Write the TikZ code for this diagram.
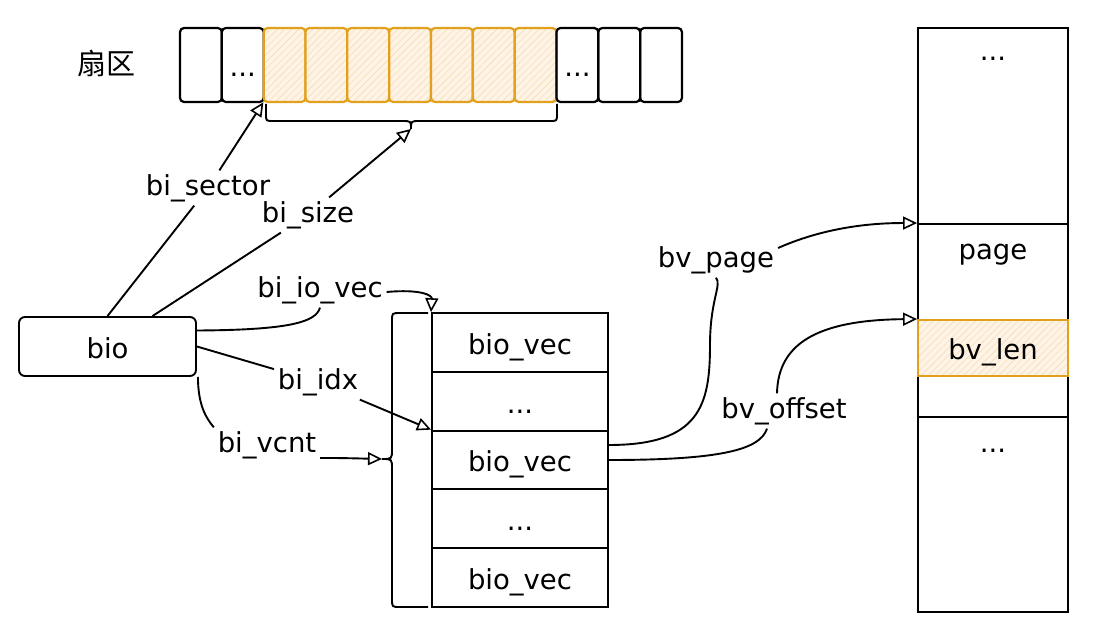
\documentclass[tikz,border=0pt]{standalone}
\usepackage{fontspec}
\setmainfont{DejaVu Sans}
\newfontfamily\cjk{Noto Sans CJK SC}
\usetikzlibrary{arrows.meta,patterns.meta}
\definecolor{hl}{RGB}{226,160,28}
\definecolor{hlfill}{RGB}{254,243,230}
\newcommand\mydots{...}
\begin{document}
\begin{tikzpicture}[x=1pt,y=-1pt,line width=1.9pt,
  txt/.style={font=\fontsize{27.5}{32}\selectfont, inner sep=3pt},
  ctxt/.style={font=\fontsize{27.5}{32}\selectfont, text height=27pt, text depth=4pt},
  cell/.style={draw, line width=2.2pt, rounded corners=4pt, minimum width=41.8pt, minimum height=74pt, inner sep=0pt, ctxt},
  hcell/.style={cell, draw=hl, preaction={fill=hlfill}, pattern={Lines[angle=45,distance=5pt,line width=0.6pt]}, pattern color=hl!35},
  vcell/.style={draw, minimum width=176pt, minimum height=58.8pt, inner sep=0pt, ctxt},
  pcell/.style={draw, minimum width=150pt, inner sep=0pt},
  hpcell/.style={pcell, draw=hl, preaction={fill=hlfill}, pattern={Lines[angle=45,distance=5pt,line width=0.6pt]}, pattern color=hl!35, ctxt},
  arr/.style={-{Triangle[open,length=14pt,width=13pt,line width=1.6pt]}},
]
\useasboundingbox (0,0) rectangle (1093,639);

% sectors
\node[font=\cjk\fontsize{29}{34}\selectfont] (shanqu) at (106,63) {扇区};
\foreach \i/\st/\t in {1/cell/,2/cell/\mydots,3/hcell/,4/hcell/,5/hcell/,6/hcell/,7/hcell/,8/hcell/,9/hcell/,10/cell/\mydots,11/cell/,12/cell/}
  \node[\st] (s\i) at ({180+41.83*(\i-0.5)},65) {\t};

% top brace
\coordinate (btop) at (411,129);
\draw (266,104) -- (266,114) .. controls (266,121) .. (273,121) -- (402,121)
  .. controls (411,121) .. (btop) .. controls (411,121) .. (420,121) -- (550,121)
  .. controls (557,121) .. (557,114) -- (557,104);

% bio
\node[draw, rounded corners=6pt, minimum width=177pt, minimum height=59pt, inner sep=0pt, ctxt] (bio) at (107.5,346.5) {bio};

% bio_vec column
\foreach \i/\yy/\t in {1/342.5/bio\_vec,2/401.5/\mydots,3/460/bio\_vec,4/518.5/\mydots,5/577.5/bio\_vec}
  \node[vcell] (v\i) at (520,\yy) {\t};

% left brace
\coordinate (btip) at (382,459);
\draw (428,313) -- (400,313) .. controls (392,313) .. (392,321) -- (392,449)
  .. controls (392,459) .. (btip) .. controls (392,459) .. (392,469) -- (392,599)
  .. controls (392,607) .. (400,607) -- (428,607);

% page column
\node[pcell, minimum height=196pt] (r1) at (993,126) {};
\node[pcell, minimum height=96pt] (r2) at (993,272) {};
\node[pcell, minimum height=41pt] (r4) at (993,396.5) {};
\node[pcell, minimum height=195pt] (r5) at (993,514.5) {};
\node[hpcell, minimum height=56pt] (rlen) at (993,348) {bv\_len};
\node[txt] (t1) at (993,59) {...};
\node[txt] (tpage) at (993,255) {page};
\node[txt] (t5) at (993,451) {...};

% labels
\node[txt] (lsec) at (208,188) {bi\_sector};
\node[txt] (lsize) at (308,215) {bi\_size};
\node[txt] (lio) at (320,290) {bi\_io\_vec};
\node[txt] (lidx) at (318,382) {bi\_idx};
\node[txt] (lvcnt) at (267,445) {bi\_vcnt};
\node[txt] (lpage) at (716,260) {bv\_page};
\node[txt] (loff) at (784,411) {bv\_offset};

% connectors
\draw[arr] (bio.north) -- (lsec) -- (s3.south west);
\draw[arr] ([xshift=45pt]bio.north) -- (lsize) -- (btop);
\draw[arr] ([yshift=16pt]bio.east) .. controls (290,330) and (316,322) .. (lio.south)
  ([yshift=-2pt]lio.east) .. controls (420,289) and (432,295) .. (v1.north west);
\draw[arr] (bio.east) -- (lidx) -- (v3.north west);
\draw[arr] ([xshift=1pt]bio.south east) .. controls (198,405) and (206,418) .. (lvcnt.north west)
  ([yshift=-13pt]lvcnt.east) .. controls (340,458) .. (btip);
\draw[arr] ([yshift=15pt]v3.east) .. controls (700,445) and (710,405) .. (710,345)
  .. controls (710,300) and (722,285) .. (lpage.south)
  ([yshift=12pt]lpage.east) .. controls (830,225) and (880,223) .. (r2.north west);
\draw[arr] (v3.east) .. controls (720,460) and (760,450) .. ([xshift=-17pt]loff.south)
  ([xshift=-7pt]loff.north) .. controls (778,345) and (815,320) .. (rlen.north west);
\end{tikzpicture}
\end{document}
